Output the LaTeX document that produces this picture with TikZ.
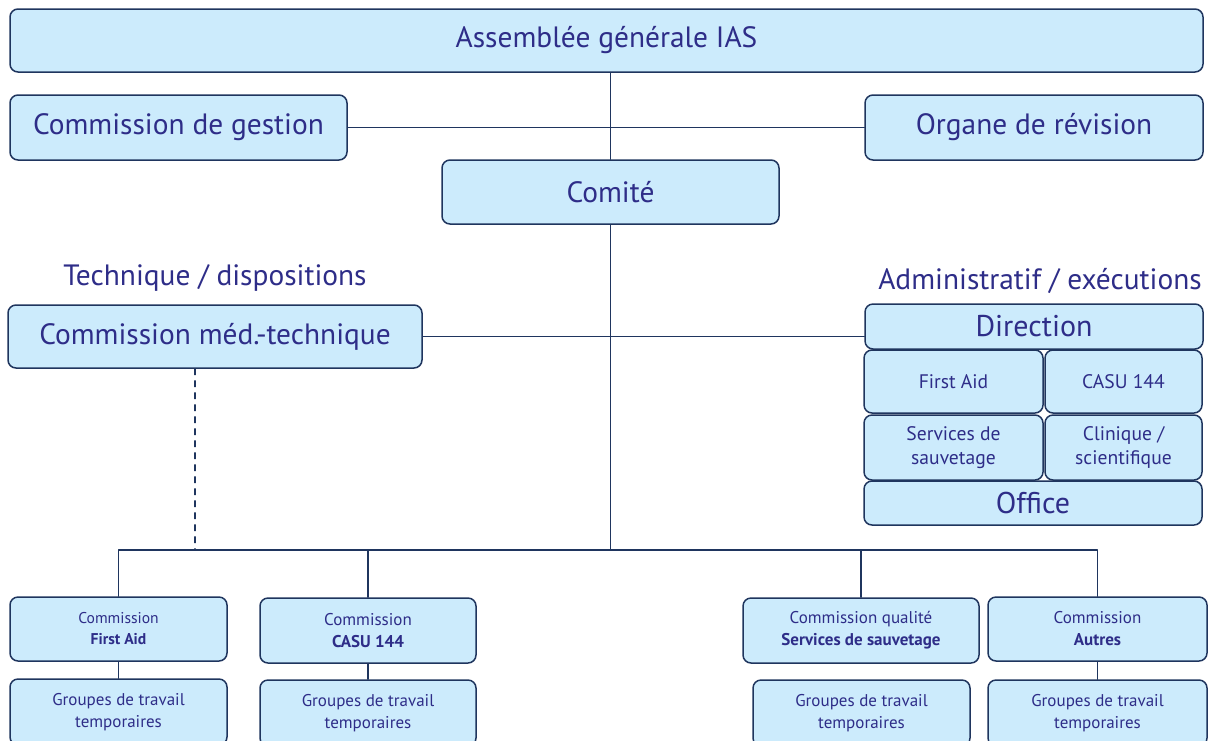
\documentclass[tikz,border=0pt]{standalone}
\usepackage{fontspec}
\setmainfont{PT Sans}
\definecolor{txtblue}{HTML}{2E2D88}
\definecolor{boxfill}{HTML}{CCEBFC}
\definecolor{boxline}{HTML}{1F355E}
\begin{document}
\begin{tikzpicture}[x=0.5pt,y=-0.5pt,line cap=round,line join=round,
	box/.style={draw=boxline,fill=boxfill,line width=0.75pt,rounded corners=4pt,inner sep=0pt,text=txtblue,align=center},
	big/.style={font=\fontsize{14.7}{17}\selectfont},
	mid/.style={font=\fontsize{9.8}{12}\selectfont},
	small/.style={font=\fontsize{8.5}{11}\selectfont},
	link/.style={draw=boxline,line width=0.6pt}]
	\useasboundingbox (0,0) rectangle (1208,740);
	% top level
	\node[box,big,minimum width=596.5pt,minimum height=31.5pt] (assemblee) at (606.5,40.5) {Assemblée générale IAS};
	\node[box,big,minimum width=168.5pt,minimum height=32.5pt] (gestion) at (178.5,127.5) {Commission de gestion};
	\node[box,big,minimum width=169pt,minimum height=32.5pt] (organe) at (1034,127.5) {Organe de révision};
	\node[box,big,minimum width=168.5pt,minimum height=32pt] (comite) at (610.5,192) {Comité};
	% technique
	\node[txtblue,big] (technique) at (215,278) {Technique / dispositions};
	\node[box,big,minimum width=207pt,minimum height=31.5pt] (medtech) at (215,336.5) {Commission méd.-technique};
	% administratif
	\node[txtblue,big] (admin) at (1040,281) {Administratif / exécutions};
	\node[box,big,font=\fontsize{15}{17}\selectfont,minimum width=169pt,minimum height=22.5pt] (direction) at (1034,326.5) {Direction};
	\node[box,mid,minimum width=89.5pt,minimum height=31.5pt] (firstaid) at (953.5,381.5) {First Aid};
	\node[box,mid,minimum width=78.5pt,minimum height=31.5pt] (casu) at (1123.5,381.5) {CASU 144};
	\node[box,mid,minimum width=89.5pt,minimum height=32.5pt] (services) at (953.5,447.5) {Services de\\sauvetage};
	\node[box,mid,minimum width=78.5pt,minimum height=32.5pt] (clinique) at (1123.5,447.5) {Clinique /\\scientifique};
	\node[box,big,font=\fontsize{15}{17}\selectfont,minimum width=169pt,minimum height=22pt] (office) at (1033,503) {Office};
	% commissions
	\node[box,small,font=\fontsize{7.8}{10.5}\selectfont,minimum width=108.5pt,minimum height=32pt] (comfa) at (118.5,629) {Commission\\\textbf{First Aid}};
	\node[box,small,minimum width=108pt,minimum height=32.5pt] (comcasu) at (368,630.5) {Commission\\\textbf{CASU 144}};
	\node[box,small,minimum width=118pt,minimum height=32.5pt] (comqual) at (861,630.5) {Commission qualité\\\textbf{Services de sauvetage}};
	\node[box,small,minimum width=109.5pt,minimum height=32pt] (comautres) at (1097.5,629) {Commission\\\textbf{Autres}};
	\node[box,small,minimum width=108.5pt,minimum height=33pt] (grfa) at (118.5,712) {Groupes de travail\\temporaires};
	\node[box,small,minimum width=108pt,minimum height=33pt] (grcasu) at (368,713) {Groupes de travail\\temporaires};
	\node[box,small,minimum width=108.5pt,minimum height=33pt] (grqual) at (861.5,713) {Groupes de travail\\temporaires};
	\node[box,small,minimum width=109.5pt,minimum height=33pt] (grautres) at (1097.5,713) {Groupes de travail\\temporaires};
	% connectors
	\coordinate (hub) at (610.5,550);
	\coordinate (dash) at (195,550);
	\draw[link] (comite.north) -- (comite.north |- assemblee.south);
	\draw[link] (gestion.east) -- (organe.west);
	\draw[link] (comite.south) -- (hub);
	\draw[link] (medtech.east) -- (medtech.east -| direction.west);
	\draw[link,dashed] (dash |- medtech.south) -- (dash);
	\draw[link] (comfa.north) |- (hub) -| (comautres.north);
	\draw[link] (comcasu.north) -- (comcasu.north |- hub);
	\draw[link] (comqual.north) -- (comqual.north |- hub);
	\draw[link] (comfa.south) -- (grfa.north);
	\draw[link] (comcasu.south) -- (grcasu.north);
	\draw[link] (comqual.south) -- (comqual.south -| grqual.north);
	\draw[link] (comautres.south) -- (grautres.north);
\end{tikzpicture}
\end{document}
